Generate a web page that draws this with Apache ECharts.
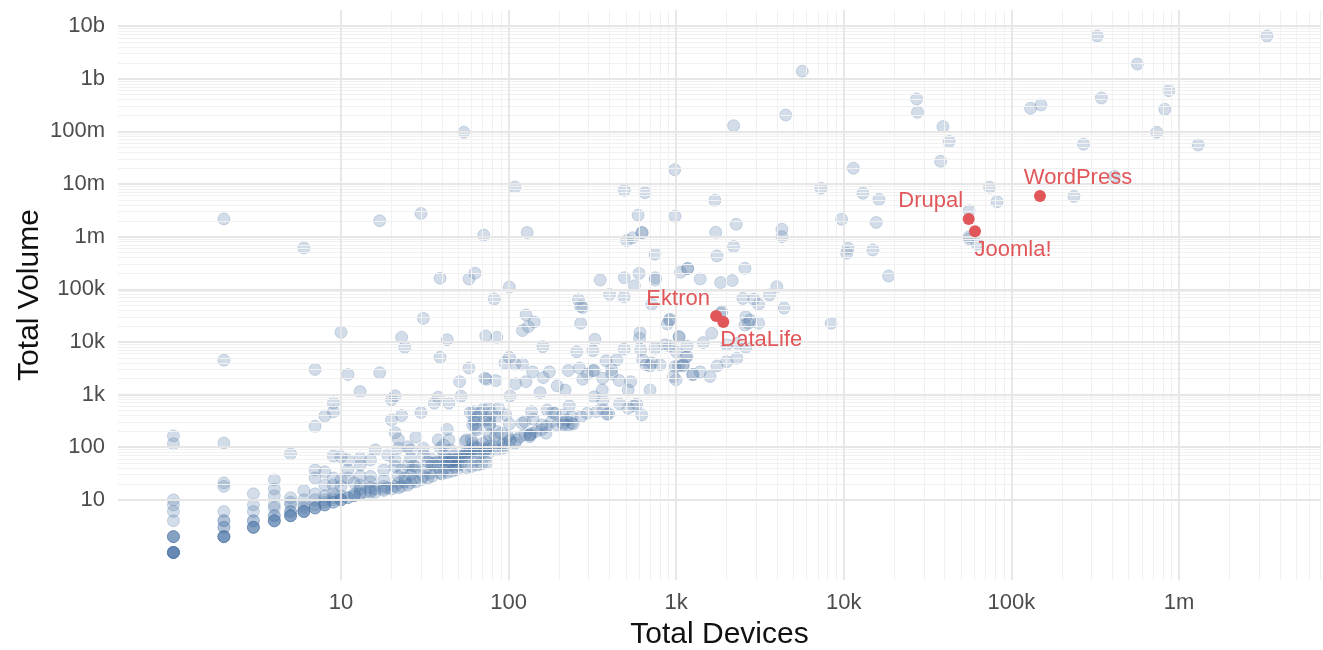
<!DOCTYPE html>
<html><head><meta charset="utf-8">
<script src="https://cdn.jsdelivr.net/npm/echarts@6/dist/echarts.min.js"></script>
<style>html,body{margin:0;padding:0;background:#fff}#c{width:1323px;height:650px}</style>
</head><body><div id="c"></div>
<script>
// ---- data (Total Devices, Total Volume) ----
const totalDevices = [
1,1,1,1,1,1,1,1,1,1,1,1,1,1,1,1,1,
2,2,2,2,2,2,2,2,2,2,2,2,2,2,2,
3,3,3,3,3,3,3,3,3,
4,4,4,4,4,4,4,4,4,4,4,
5,5,5,5,5,5,5,5,5,5,
6,6,6,6,6,6,6,6,6,
7,7,7,7,7,7,7,7,7,7,
8,8,8,8,8,8,8,8,8,
9,9,9,9,9,9,9,9,9,9,
10,10,10,10,10,10,10,10,
11,11,11,11,11,11,
12,12,12,12,
13,13,13,13,13,13,13,13,14,
15,15,15,15,15,15,
16,16,16,17,17,
18,18,18,18,18,19,19,
20,20,20,21,21,21,21,21,22,22,22,22,22,
23,24,23,23,23,24,25,24,
25,26,26,25,27,26,27,26,28,28,28,27,
30,31,30,31,31,33,32,34,31,30,33,
36,38,44,35,35,35,37,34,38,41,39,40,43,46,49,
39,39,43,38,44,41,45,39,41,40,41,43,43,44,45,45,46,48,48,50,50,52,48,
51,52,
54,58,63,58,59,52,54,56,57,59,56,60,56,60,55,57,55,61,62,61,62,62,
63,63,63,64,65,65,65,65,65,67,68,69,70,70,72,71,72,72,72,74,74,74,75,75,76,76,77,77,77,77,79,81,82,83,84,85,85,85,85,87,87,73,91,93,93,95,95,96,99,
101,101,101,102,102,102,109,109,109,110,112,117,120,121,121,125,125,127,127,129,131,134,134,134,137,137,139,140,142,146,154,157,158,160,161,167,168,170,175,180,183,189,194,195,210,212,212,217,222,227,227,230,237,238,243,255,261,264,269,269,270,277,277,294,295,318,318,324,324,327,335,352,362,364,364,368,381,385,395,
400,412,412,442,457,459,489,489,490,490,507,517,517,535,550,560,563,582,592,600,604,608,614,622,622,628,630,651,661,698,698,714,714,747,747,750,750,800,857,885,910,910,918,961,979,984,984,998,1000,1030,1040,1040,1060,1100,1100,1140,1160,1160,1170,1170,1250,1260,1390,1390,1450,
1590,1630,1700,1720,1750,1750,1840,1850,1870,2000,2000,2160,2200,2200,2280,2300,2300,2500,2570,2570,2600,2600,2700,2750,2900,3100,3100,3600,3980,4270,4270,4400,4500,5650,7300,8400,9700,10400,10600,11400,13000,14900,15600,16200,18500,27200,27500,37800,39000,42500,56000,56000,56000,62600,74000,82000,130000,150000,236000,269000,325000,344000,411000,564000,736000,822000,868000,1300000,3350000
];
const totalVolume = [
164,116,10,8,6,4,2,2,2,2,1,1,1,1,1,1,1,
2170000,4500,120,21,18,6,4,4,3,3,2,2,2,2,2,
13,8,6,4,4,3,3,3,3,
24,16,12,8,7,5,5,4,4,4,4,
75,11,9,8,6,6,5,5,5,5,
610000,15,10,8,7,6,6,6,6,
3000,250,37,26,13,10,8,7,7,7,
390,34,19,12,10,9,8,8,8,
690,470,68,26,19,13,11,10,9,9,
15300,66,24,18,12,10,10,10,
2400,57,37,26,11,11,
21,13,12,12,
1140,62,46,28,19,16,13,13,14,
57,28,22,17,15,14,
89,16,14,2600,2000000,
37,24,18,16,15,71,17,
795,329,16,946,189,57,43,18,141,96,28,21,17,
12300,7900,400,37,18,26,19,22,
102,89,62,46,37,30,24,21,155,43,22,44,
2760000,28000,454,96,71,53,38,32,28,24,26,
686,891,686,28,50,46,51,62,43,37,32,31,33,35,37,
162000,5100,11000,138,138,110,89,96,71,57,57,51,218,57,53,46,57,43,57,46,59,50,71,
1760,930,
96000000,157000,202000,3200,454,66,66,82,82,89,41,43,138,138,128,71,71,119,96,265,330,474,
57,103,285,230,96,214,370,46,71,77,440,48,119,513,2040,1070000,330,89,82,51,128,1950,96,71,103,550,330,285,171,265,440,103,65600,158,1840,200,380,89,12300,550,119,13000,184,96,119,110,4000,410,162,
110000,5100,276,940,128,138,119,8800000,3800,1600,138,158,285,3800,16400,306,171,32600,1760,1200000,19500,171,158,171,474,184,2700,340,24000,198,1090,214,265,8100,2100,184,247,510,2700,306,454,440,265,1460,410,265,285,1220,330,2850,265,610,285,380,276,6500,63000,3200,47000,22600,380,45000,1950,440,2450,2850,6800,2850,910,11200,474,150000,1220,2040,767,510,4400,424,430,
80000,3000,2450,4600,1840,665,72000,7300,166000,7600000,840000,1220,550,1760,955000,610,117000,665,2550000,200000,11700,15000,7100,1200000,410,1190000,4600,6800000,3700,3500,1220,4000,52000,7600,463000,166000,150000,3700,8800,22000,26000,8400,27000,2200,18700000,2440000,3400,1900,6500,3500,12600,12400,210000,3700,3500,5100,8300,5300,248000,248000,2400,2400,2700,157000,9700,
2200,14600,4900000,1210000,430000,3500,134000,35000,37600,4200,8800,146000,646000,128000000,1720000,4900,9400,67000,251000,21000,30000,7900,22600,26000,65000,52000,22600,78000,112000,1380000,1000000,44000,204000000,1390000000,8300000,22600,2140000,484000,603000,20000000,6700000,558000,1860000,5100000,179000,413000000,231000000,27000000,123000000,64000000,3100000,1000000,910000,718000,8700000,4600000,275000000,317000000,5800000,57000000,6500000000,431000000,14000000,1900000000,96000000,263000000,593000000,55000000,6500000000
];
const highlightNames = ['Ektron', 'DataLife', 'Drupal', 'Joomla!', 'WordPress'];
const highlightDevices = [1730, 1910, 55600, 60600, 148000];
const highlightVolume = [31000, 24000, 2170000, 1260000, 5900000];

const xTickValues = [10, 100, 1000, 10000, 100000, 1000000];
const xTickLabels = ['10', '100', '1k', '10k', '100k', '1m'];
const yTickValues = [10, 100, 1000, 1e4, 1e5, 1e6, 1e7, 1e8, 1e9, 1e10];
const yTickLabels = ['10', '100', '1k', '10k', '100k', '1m', '10m', '100m', '1b', '10b'];

// ---- styling ----
const X_MIN = 0.467, X_MAX = 7.03e6, Y_MIN = 0.30, Y_MAX = 2.02e10;
const labelOffsets = { 'Ektron': [-38, -17], 'DataLife': [38, 18], 'Drupal': [-38, -18], 'Joomla!': [38, 19], 'WordPress': [38, -18] };
const BLUE = 'rgba(78,121,167,0.25)';
const RED = '#E15759';
const FONT = 'Liberation Sans, Arial, Helvetica, sans-serif';

function makeFormatter(vals, labels) {
  return function (v) {
    for (let i = 0; i < vals.length; i++) {
      if (Math.abs(Math.log10(v) - Math.log10(vals[i])) < 1e-6) return labels[i];
    }
    return '';
  };
}
function gridLines(key, majors, maxV, minor) {
  const out = [];
  majors.forEach(function (m) {
    if (minor) {
      for (let k = 2; k <= 9; k++) { const v = m * k; if (v < maxV) out.push({ [key]: v }); }
    } else out.push({ [key]: m });
  });
  return out;
}
function lineSeries(data, color, width) {
  return {
    type: 'scatter', data: [], silent: true, z: 1,
    markLine: {
      silent: true, animation: false, symbol: ['none', 'none'],
      label: { show: false }, emphasis: { disabled: true },
      lineStyle: { color: color, width: width, type: 'solid', opacity: 1 },
      data: data
    }
  };
}

const chart = echarts.init(document.getElementById('c'), null, { renderer: 'canvas' });
chart.setOption({
  animation: false,
  backgroundColor: '#fff',
  textStyle: { fontFamily: FONT },
  grid: { left: 118, right: 2, top: 10, bottom: 70, containLabel: false, outerBoundsMode: 'none' },
  xAxis: {
    type: 'log', logBase: 10, min: X_MIN, max: X_MAX,
    axisLine: { show: false }, axisTick: { show: false }, splitLine: { show: false },
    axisLabel: { customValues: xTickValues, formatter: makeFormatter(xTickValues, xTickLabels), fontSize: 22, color: '#4d4d4d', margin: 12, fontFamily: FONT },
    name: 'Total Devices', nameLocation: 'middle', nameGap: 40, nameMoveOverlap: false,
    nameTextStyle: { fontSize: 30, color: '#111', fontFamily: FONT }
  },
  yAxis: {
    type: 'log', logBase: 10, min: Y_MIN, max: Y_MAX,
    axisLine: { show: false }, axisTick: { show: false }, splitLine: { show: false },
    axisLabel: { customValues: yTickValues, formatter: makeFormatter(yTickValues, yTickLabels), fontSize: 22, color: '#4d4d4d', margin: 13, fontFamily: FONT },
    name: 'Total Volume', nameLocation: 'middle', nameGap: 73, nameMoveOverlap: false,
    nameTextStyle: { fontSize: 30, color: '#111', fontFamily: FONT }
  },
  series: [
    lineSeries(gridLines('xAxis', xTickValues, X_MAX, true).concat(gridLines('yAxis', yTickValues, 1.9e10, true)), '#f1f1f1', 1),
    lineSeries(gridLines('xAxis', xTickValues, X_MAX, false).concat(gridLines('yAxis', yTickValues, Y_MAX, false)), '#e6e6e6', 1.8),
    {
      type: 'scatter', silent: true, z: 3, symbolSize: 12,
      itemStyle: { color: BLUE, borderColor: BLUE, borderWidth: 1, opacity: 1 },
      data: totalDevices.map(function (d, i) { return [d, totalVolume[i]]; })
    },
    {
      type: 'scatter', silent: true, z: 5, symbolSize: 12,
      itemStyle: { color: RED, opacity: 1 },
      data: highlightNames.map(function (n, i) {
        return {
          name: n, value: [highlightDevices[i], highlightVolume[i]],
          label: { show: true, formatter: n, position: 'inside', offset: labelOffsets[n], color: RED, opacity: 1, fontSize: 22, fontFamily: FONT }
        };
      })
    }
  ]
});
</script>
</body></html>
